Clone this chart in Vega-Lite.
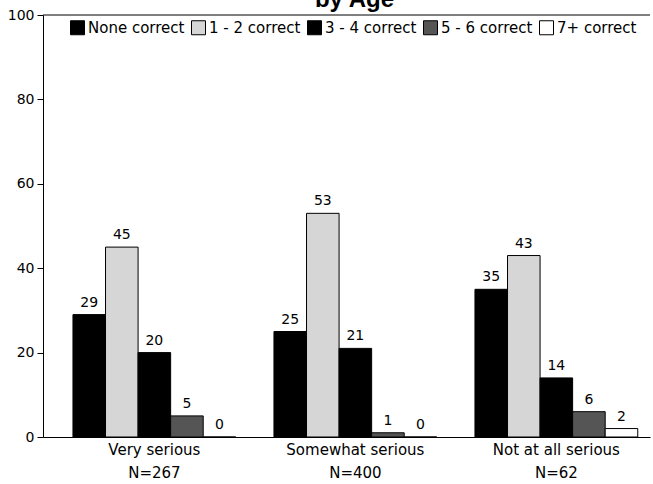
{
  "$schema": "https://vega.github.io/schema/vega-lite/v6.json",
  "autosize": "none",
  "width": 607,
  "height": 422,
  "padding": {"left": 43, "top": 15, "right": 3, "bottom": 47},
  "background": "white",
  "title": {"text": "by Age", "fontSize": 24, "font": "Liberation Sans", "fontWeight": "bold", "color": "black", "baseline": "alphabetic", "offset": 0, "dx": 8, "dy": 23, "frame": "group"},
  "config": {
    "view": {"stroke": null},
    "font": "DejaVu Sans",
    "axis": {"grid": false, "domainColor": "black", "tickColor": "black", "labelColor": "black", "labelFont": "DejaVu Sans"}
  },
  "data": {
    "values": [
      {"group": "Very serious", "cat": "None correct", "value": 29},
      {"group": "Very serious", "cat": "1 - 2 correct", "value": 45},
      {"group": "Very serious", "cat": "3 - 4 correct", "value": 20},
      {"group": "Very serious", "cat": "5 - 6 correct", "value": 5},
      {"group": "Very serious", "cat": "7+ correct", "value": 0},
      {"group": "Somewhat serious", "cat": "None correct", "value": 25},
      {"group": "Somewhat serious", "cat": "1 - 2 correct", "value": 53},
      {"group": "Somewhat serious", "cat": "3 - 4 correct", "value": 21},
      {"group": "Somewhat serious", "cat": "5 - 6 correct", "value": 1},
      {"group": "Somewhat serious", "cat": "7+ correct", "value": 0},
      {"group": "Not at all serious", "cat": "None correct", "value": 35},
      {"group": "Not at all serious", "cat": "1 - 2 correct", "value": 43},
      {"group": "Not at all serious", "cat": "3 - 4 correct", "value": 14},
      {"group": "Not at all serious", "cat": "5 - 6 correct", "value": 6},
      {"group": "Not at all serious", "cat": "7+ correct", "value": 2}
    ]
  },
  "encoding": {
    "x": {
      "field": "group", "type": "nominal", "sort": null,
      "scale": {"paddingInner": 0.19, "paddingOuter": 0.105, "align": 0.71},
      "axis": {
        "title": null, "labelAngle": 0, "ticks": false, "labelFontSize": 15, "labelPadding": 5,
        "labelLineHeight": 23, "labelBaseline": "top",
        "labelExpr": "[datum.label, datum.label == 'Very serious' ? 'N=267' : datum.label == 'Somewhat serious' ? 'N=400' : 'N=62']"
      }
    },
    "xOffset": {"field": "cat", "type": "nominal", "sort": null, "scale": {"paddingInner": 0, "paddingOuter": 0}},
    "y": {
      "field": "value", "type": "quantitative",
      "scale": {"domain": [0, 100], "nice": false},
      "axis": {"title": null, "values": [0, 20, 40, 60, 80, 100], "tickSize": 6, "labelPadding": 3, "labelFontSize": 14}
    }
  },
  "layer": [
    {
      "mark": {"type": "bar", "stroke": "black", "strokeWidth": 1},
      "encoding": {
        "fill": {
          "field": "cat", "type": "nominal", "sort": null,
          "scale": {
            "domain": ["None correct", "1 - 2 correct", "3 - 4 correct", "5 - 6 correct", "7+ correct"],
            "range": ["#000000", "#d6d6d6", "#000000", "#555555", "#ffffff"]
          },
          "legend": {
            "title": null, "orient": "none", "direction": "horizontal", "columns": 5,
            "legendX": 27, "legendY": 5, "symbolType": "square", "symbolSize": 196,
            "symbolStrokeColor": "black", "symbolStrokeWidth": 1, "labelFontSize": 15,
            "labelColor": "black", "labelOffset": 3, "columnPadding": 4, "labelFont": "DejaVu Sans"
          }
        }
      }
    },
    {
      "mark": {"type": "text", "baseline": "bottom", "dy": -5, "fontSize": 14, "color": "black"},
      "encoding": {"text": {"field": "value", "type": "quantitative"}}
    },
    {
      "data": {"values": [{"top": 100}]},
      "mark": {"type": "rule", "color": "black", "strokeWidth": 1},
      "encoding": {"y": {"field": "top", "type": "quantitative"}, "x": null, "xOffset": null}
    }
  ]
}
